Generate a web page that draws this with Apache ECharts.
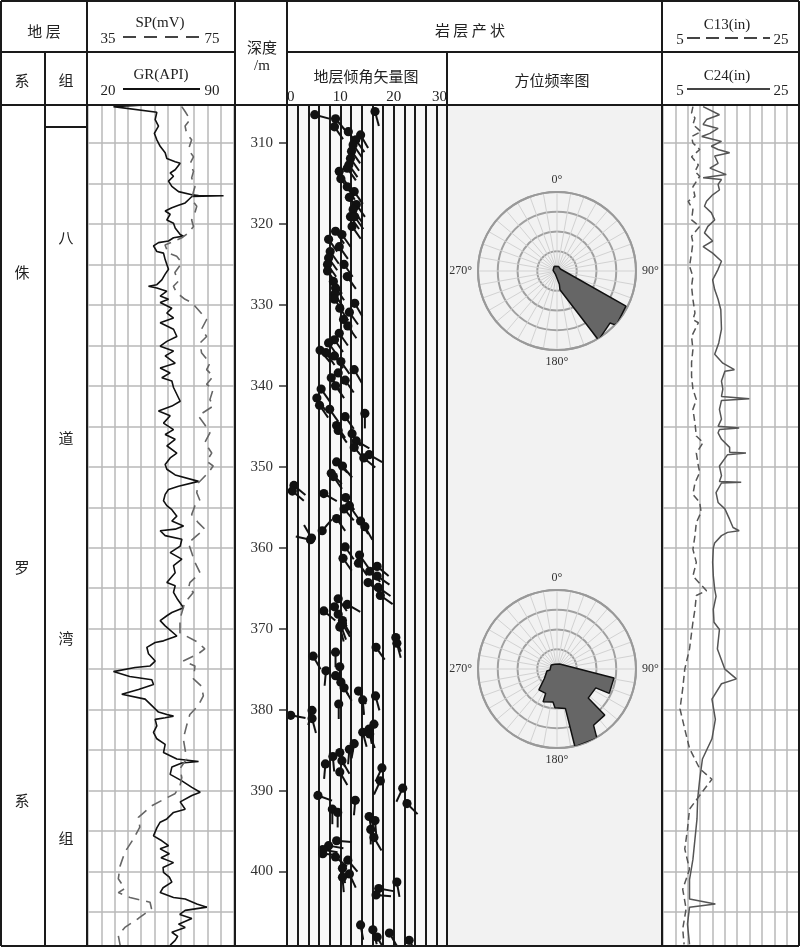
<!DOCTYPE html>
<html>
<head>
<meta charset="utf-8">
<script src="https://cdn.jsdelivr.net/npm/echarts@6.0.0/dist/echarts.min.js"></script>
<style>
  body { margin: 0; background: #fff; }
  #main { width: 800px; height: 947px; }
</style>
</head>
<body>
<div id="main"></div>
<script>
// depth range of the log (m)
const DEPTH_MIN = 305.3
const DEPTH_MAX = 409.2
const depthLabels = [310, 320, 330, 340, 350, 360, 370, 380, 390, 400]
const depthGrid = [310, 315, 320, 325, 330, 335, 340, 345, 350, 355, 360, 365, 370, 375, 380, 385, 390, 395, 400, 405]
const dipLabels = [0, 10, 20, 30]
const roseLabels = [0, 90, 180, 270]

// GR curve: [depth, API]
const grCurve = [[305.3,47.4],[305.5,32.2],[306.2,53],[307.1,52.2],[307.9,53.8],[308.8,51.8],[309.6,53],[310.4,54.6],[311.2,57],[311.9,57.8],[312.3,61.8],[312.5,64.2],[313.3,61.8],[313.7,59.4],[314.1,61],[314.7,58.6],[315.35,60.2],[316,63.4],[316.4,69.8],[316.5,73],[316.52,85],[316.6,69.8],[317,68.2],[317.4,66.6],[317.7,63.4],[318,60.2],[318.4,57],[318.8,59.4],[319.5,57.8],[319.9,61],[320.5,61.8],[321.3,64.2],[321.5,65.8],[321.7,61],[322.1,58.6],[322.3,53.8],[322.7,51.4],[323.4,53],[323.6,56.2],[324.4,57],[325,57.8],[325.6,58.6],[326.2,57],[326.9,55.4],[327.5,53],[327.7,49],[327.9,53],[328.3,57.8],[328.9,54.6],[329.3,58.6],[329.7,54.6],[330.4,60.2],[331,57.8],[331.6,61],[332.2,54.6],[333,61],[333.9,62.6],[334.5,57.8],[335.1,54.6],[335.7,61],[336.3,57],[337.2,61.8],[337.8,54.6],[338.4,59.4],[339,55.4],[339.4,60.2],[340.2,61],[341.9,64.2],[342.5,60.2],[343.1,53.8],[343.7,59.4],[344.6,56.2],[345.4,61],[346,57],[346.6,61.8],[347.4,57.8],[348.3,62.6],[348.9,59.4],[349.7,57],[350.3,57.8],[351,61.8],[351.8,73],[352.4,63.4],[352.8,58.6],[353.4,57],[354.2,56.2],[354.8,57.8],[355.3,60.2],[356.1,62.6],[356.7,60.2],[357.3,65.8],[357.7,61.8],[357.9,54.6],[358.5,57],[358.95,65],[359.8,64.2],[360.6,59.4],[361.4,65],[362.2,61],[363.1,61.8],[364.3,57.8],[364.7,61.8],[365.5,61],[366.4,63],[367.4,65.8],[368,60.2],[368.4,57.8],[369,54.6],[369.65,57],[370.9,62.6],[371.5,56.2],[371.7,52.2],[372.3,48.2],[373.1,49],[374,52.2],[374.6,49.8],[374.8,42.6],[375.3,32.2],[375.9,40],[376.3,50.6],[376.9,51.4],[377.5,44.2],[378.1,36.2],[378.7,47.4],[379.5,50.6],[380.3,53.8],[380.6,57.8],[380.8,61],[381,57],[381.2,52.2],[382,53],[382.8,51.4],[383.6,53],[384.3,57],[385.3,56.2],[386.1,62.6],[386.4,73],[386.6,65],[387.1,60.2],[388,59.4],[388.8,65],[389.6,69.8],[390.2,73.8],[390.6,69.8],[391.4,64.2],[392.3,66.6],[392.7,61],[393.5,57.8],[393.9,54.6],[394.6,53],[395.6,51.4],[396.2,55.4],[396.8,58.6],[397.2,54.6],[397.8,59],[398.3,55],[398.9,61],[399.5,56],[400.1,56.2],[400.7,59],[401.3,60.2],[402,56],[402.6,54.6],[403.2,61],[403.4,66.6],[404,72.2],[404.4,77],[404.8,66.6],[405.3,64],[405.8,69.8],[406.5,63.4],[406.9,66.6],[407.5,60.2],[408,63],[408.5,61.8],[409.1,59.4]]

// SP curve: [depth, mV]
const spCurve = [[305.5,60.7],[306.1,61.6],[307.1,63],[307.9,61.6],[308.8,62],[309.6,63.4],[310.8,62.5],[311.7,63.9],[312.5,63],[313.5,63.9],[314.3,63.4],[315.4,64.3],[316,63.9],[317,63.4],[317.8,64.8],[318.6,64.3],[319.5,63.4],[320.3,63.9],[321.1,62.5],[321.7,60.7],[322.6,56.1],[323.6,57],[324,59.3],[324.8,60.7],[326,58.8],[327.1,59.7],[327.7,58.4],[328.5,59.3],[329.3,61.6],[329.7,63.4],[330.6,65.2],[331.8,67.5],[333,66.1],[333.9,67.5],[334.7,65.7],[335.9,66.1],[337.2,68.4],[338,67.5],[338.8,69.3],[339.8,67.5],[340.4,69.3],[341.7,68.4],[342.5,69.3],[343.7,65.2],[344.8,67],[345.8,68.4],[347,67],[348.3,68.9],[349.3,67.5],[349.9,69.3],[350.7,68],[352,65.2],[353.2,64.8],[354.2,65.7],[354.8,64.3],[355.9,63.4],[356.9,65.2],[357.7,67],[358.5,64.8],[359.4,62.5],[360.6,63.4],[361.8,64.3],[363.1,65.7],[364.3,62.9],[365.1,62.5],[365.5,63.9],[366.8,61.5],[368.8,60.2],[370.5,60.2],[371.7,65.2],[372.5,67],[373.1,65.2],[374,61.1],[374.6,64.3],[376.2,63.9],[377.1,66.1],[378.3,66.6],[379.5,65.2],[380.6,62.9],[382,62],[383.6,61.1],[384.9,61.6],[386.1,62],[387.3,60.2],[388.4,60.7],[389.4,60.2],[390.4,58.8],[391,56.1],[391.9,52.4],[393.3,48.8],[394.5,49.2],[396,47.4],[397.6,45.1],[399.3,43.8],[400.9,43.3],[402.1,45.1],[402.6,43.3],[403.2,46.5],[403.8,52],[404.6,52.4],[405.8,48.8],[406.9,45.1],[407.9,43.3],[409.1,43.8]]

// C13 / C24 caliper curves: [depth, in]
const c13Curve = [[305.5,9.4],[306.3,9.2],[306.9,9.7],[307.7,9.4],[308.6,10.6],[309.2,9.2],[310,9.4],[310.8,10.4],[311.7,9.2],[312.7,10.2],[313.5,9.7],[314.1,10.4],[315.4,9.4],[316.6,9.7],[317.2,8.7],[318.2,9.4],[319.5,9.2],[320.3,10.4],[321.5,9.2],[322.3,9.4],[323.6,9.2],[325.2,8.9],[326.5,9.4],[327.7,9.2],[329.3,9.4],[331,9.7],[331.8,9.4],[332.2,10.2],[333.9,9.2],[335.5,9.4],[337.1,9.2],[338.8,9.2],[340.4,9.4],[341.7,9.9],[342.9,9.4],[344.6,9.7],[346.2,9.9],[347,10.9],[348.3,9.9],[349.9,10.2],[350.7,10.4],[352,9.7],[353.4,9.4],[354.4,10.4],[355.6,10.6],[356.9,9.9],[358.5,9.7],[360.2,9.4],[361.8,9.9],[363.5,9.4],[365.3,11.4],[365.9,9.9],[367.6,9.7],[369.2,9.4],[372.5,8.9],[375,8.2],[377.4,7.9],[379.9,7.5],[382.4,8.2],[384.8,8.9],[387.3,10.4],[388.6,12.2],[389.8,11.1],[392.3,8.9],[394.8,8.6],[397.2,8.2],[399.7,8.9],[402.2,7.9],[404.6,8.4],[407.1,7.9],[409,8.1]]
const c24Curve = [[305.5,10.9],[306.5,13.3],[307.1,11.4],[307.7,10.9],[308.2,13.1],[308.8,11.9],[309.2,10.7],[309.8,13.6],[310.4,12.1],[310.8,13.1],[311.2,14.8],[311.6,12.6],[312.5,13.1],[313.1,11.9],[313.9,14.3],[314.3,10.9],[314.5,13.6],[315.1,13.1],[315.8,13.3],[316.4,12.3],[317.2,11.4],[317.8,11.1],[318.6,12.1],[319.5,12.6],[320.3,11.6],[321.1,11.1],[322.1,12.3],[322.8,10.9],[323.6,12.3],[324.6,13.6],[325.6,13.1],[326.9,12.3],[328.1,12.6],[329.3,13.1],[330.6,13.5],[333,13.6],[334.7,13.2],[336.1,12.6],[337.2,13.8],[338,15.5],[338.2,14.1],[339.4,13.6],[340.4,13.8],[341.3,13.6],[341.6,17.7],[341.8,13.6],[342.9,13.3],[344.1,13.6],[345,13.1],[345.2,16.2],[345.4,13.3],[345.8,13.1],[346.6,13.6],[347.6,14.8],[348.2,14.8],[348.3,17.2],[348.5,14.5],[349.9,13.3],[351.1,13.6],[351.8,13.3],[351.9,16.5],[352,13.6],[353.2,12.8],[354.4,13.1],[355.2,14.1],[356.5,14.8],[357.5,15.3],[357.9,16.2],[358.1,14.5],[358.5,13.6],[359.4,12.6],[360,12.4],[361.8,12.3],[363.5,12.4],[365.1,12.6],[366,12.8],[367.6,12.4],[369.2,12.5],[370.1,13.3],[372.5,13],[375,14.1],[376.2,15.8],[376.8,13.6],[378.7,12.2],[381.2,12.7],[383.6,12.2],[386.1,10.8],[388.6,10.4],[391,10.1],[393.5,10],[396,9.7],[398.5,9.4],[401,8.9],[403.4,8.9],[404,12.7],[404.4,8.9],[406.5,8.6],[409,8.9]]

// dip tadpoles: [depth, dip deg, azimuth deg]
const dipData = [[306.5,5.2,105],[306.1,16.5,165],[307.0,9.1,140],[308.0,8.9,145],[308.6,11.5,145],[309.0,13.8,150],[309.6,12.9,145],[310.2,12.4,145],[311.0,12.1,145],[311.9,11.9,145],[312.7,11.6,145],[313.1,11.3,145],[313.5,9.8,150],[314.4,10.1,145],[315.4,11.3,150],[316.0,12.6,145],[316.7,11.7,145],[317.6,13.0,145],[318.2,12.4,145],[319.1,11.9,145],[319.1,12.7,145],[320.3,12.2,145],[320.9,9.1,145],[321.3,10.3,145],[321.9,7.8,145],[322.8,9.8,145],[323.4,8.1,145],[324.2,7.8,145],[325.0,10.7,145],[325.0,7.6,145],[325.8,7.6,145],[326.5,11.3,145],[327.1,8.7,145],[327.9,9.1,145],[328.7,8.9,145],[329.3,8.9,145],[329.8,12.7,150],[330.4,9.9,145],[330.9,11.7,145],[331.8,10.6,145],[332.6,11.4,145],[333.5,9.8,145],[334.3,8.9,145],[334.7,7.8,145],[335.6,6.2,140],[335.9,7.3,145],[336.3,8.9,145],[337.0,10.1,145],[338.4,9.6,145],[338.0,12.6,150],[339.0,8.3,145],[339.3,10.9,145],[340.0,9.1,145],[340.4,6.4,145],[341.5,5.6,145],[342.4,6.1,145],[342.9,8.0,145],[343.4,14.6,180],[343.8,10.9,145],[344.9,9.3,145],[345.5,9.6,145],[345.9,12.2,145],[346.8,13.0,120],[347.6,12.6,140],[348.5,15.4,120],[348.9,14.4,130],[349.4,9.3,135],[349.9,10.4,140],[350.8,8.3,135],[351.2,8.7,145],[352.3,1.3,130],[353.0,1.0,130],[353.3,6.9,120],[353.8,11.0,145],[354.8,11.7,145],[355.2,10.7,140],[356.4,9.3,145],[356.7,13.8,150],[357.4,14.6,150],[357.9,6.6,40],[359.0,4.4,282],[358.8,4.6,330],[359.9,10.9,145],[361.3,10.5,145],[360.9,13.6,145],[361.9,13.4,145],[362.3,16.9,130],[362.9,15.5,135],[363.5,16.9,125],[364.3,15.2,130],[364.9,17.1,125],[365.9,17.5,125],[366.3,9.6,145],[367.0,11.3,120],[367.8,6.9,130],[367.3,8.9,145],[368.2,9.6,145],[369.0,10.4,150],[369.6,10.1,160],[369.4,10.4,150],[369.8,9.9,165],[371.1,20.4,160],[371.8,20.6,165],[372.3,16.7,145],[373.4,4.9,150],[372.9,9.1,180],[374.7,9.9,180],[375.2,7.3,185],[375.8,9.1,150],[376.6,10.1,150],[377.3,10.7,150],[377.7,13.4,150],[378.8,14.2,175],[378.3,16.6,165],[379.3,9.7,180],[380.7,0.7,100],[380.1,4.7,195],[381.1,4.7,165],[381.8,16.3,190],[382.4,15.4,170],[382.8,14.2,165],[383.0,15.5,160],[384.2,12.6,190],[384.9,11.7,185],[385.3,9.9,160],[385.8,8.6,175],[386.3,10.3,150],[386.7,7.2,185],[387.7,9.9,150],[387.2,17.8,205],[388.8,17.5,205],[389.7,21.7,205],[391.6,22.5,135],[390.6,5.8,110],[391.2,12.8,185],[392.3,8.5,180],[392.7,9.5,180],[393.2,15.4,170],[393.7,16.5,175],[394.8,15.7,180],[395.8,16.3,150],[396.2,9.3,95],[396.8,7.8,100],[397.3,6.7,100],[397.8,6.7,95],[398.2,9.1,130],[398.6,11.4,140],[399.6,10.4,170],[400.3,11.7,155],[400.7,10.4,175],[401.3,20.6,170],[402.1,17.2,100],[402.9,16.7,95],[406.6,13.8,170],[407.2,16.1,165],[408.1,16.9,150],[407.6,19.2,150],[408.5,22.9,150]]

// rose diagrams: [azimuth deg, relative frequency]
const roseUpper = [[329,0.07],[350,0.07],[21,0.06],[60,0.05],[117,0.98],[131,1.01],[133,0.995],[134.5,0.94],[149,1.02],[171,0.24],[170,0.17],[200,0.05],[280,0.05],[329,0.07]]
const roseLower = [[333,0.066],[28,0.072],[99,0.73],[115,0.73],[116,0.546],[133,0.54],[134,0.84],[147,0.85],[150,1.01],[167,1.01],[168,0.51],[183,0.49],[187,0.42],[203,0.45],[205,0.34],[221,0.35],[233,0.2],[259,0.13],[262,0.09],[305,0.09],[333,0.066]]

const SERIF = "'Liberation Serif', 'DejaVu Serif', serif"
const CJK = "'Noto Sans CJK SC', sans-serif"
const TAIL = 15

const chart = echarts.init(document.getElementById('main'))

//纵向深度轴
function depthAxis(gridIndex, extra) {
	return Object.assign({
		type: 'value', gridIndex: gridIndex, inverse: true,
		min: DEPTH_MIN, max: DEPTH_MAX,
		axisLine: { show: false }, axisTick: { show: false },
		axisLabel: { show: false }, splitLine: { show: false }
	}, extra)
}
function hiddenX(gridIndex, min, max, extra) {
	return Object.assign({
		type: 'value', gridIndex: gridIndex, min: min, max: max,
		axisLine: { show: false }, axisTick: { show: false },
		axisLabel: { show: false }, splitLine: { show: false }
	}, extra)
}
const lightGrid = { show: true, lineStyle: { color: '#b9b9b9', width: 1.5 } }

function angleAxis(polarIndex) {
	return {
		polarIndex: polarIndex, type: 'value', min: 0, max: 360, interval: 10,
		startAngle: 90, clockwise: true,
		axisLine: { show: true, lineStyle: { color: '#999', width: 2 } },
		axisTick: { show: false },
		splitLine: { show: true, lineStyle: { color: '#d2d2d2', width: 1 } },
		axisLabel: {
			margin: 6, fontFamily: SERIF, fontSize: 12, color: '#333',
			formatter: v => roseLabels.indexOf(v) >= 0 ? v + '°' : ''
		}
	}
}
function radiusAxis(polarIndex) {
	return {
		polarIndex: polarIndex, type: 'value', min: 0, max: 1, interval: 0.25,
		axisLine: { show: false }, axisTick: { show: false }, axisLabel: { show: false },
		splitLine: { show: true, lineStyle: { color: '#a0a0a0', width: 2 } }
	}
}

// 表格线和表头文字
const lines = [
	[1, 1, 799, 1], [1, 946, 799, 946], [1, 1, 1, 946], [799, 1, 799, 946],
	[0, 52, 235, 52], [287, 52, 800, 52], [0, 105, 800, 105],
	[45, 52, 45, 946], [87, 0, 87, 946], [235, 0, 235, 946], [287, 0, 287, 946],
	[447, 52, 447, 946], [662, 0, 662, 946], [45, 127, 87, 127]
]
const graphics = lines.map(l => ({
	type: 'line', z: 100, shape: { x1: l[0], y1: l[1], x2: l[2], y2: l[3] },
	style: { stroke: '#1a1a1a', lineWidth: 2 }
}))
graphics.push({ type: 'rect', z: -5, shape: { x: 447, y: 105, width: 215, height: 841 }, style: { fill: '#f2f2f2' } })
graphics.push(
	{ type: 'line', z: 100, shape: { x1: 123, y1: 37, x2: 200, y2: 37 }, style: { stroke: '#444', lineWidth: 2, lineDash: [13, 8] } },
	{ type: 'line', z: 100, shape: { x1: 123, y1: 89, x2: 200, y2: 89 }, style: { stroke: '#111', lineWidth: 2 } },
	{ type: 'line', z: 100, shape: { x1: 687, y1: 38, x2: 770, y2: 38 }, style: { stroke: '#444', lineWidth: 2, lineDash: [13, 6] } },
	{ type: 'line', z: 100, shape: { x1: 687, y1: 89, x2: 770, y2: 89 }, style: { stroke: '#444', lineWidth: 2 } }
)
const texts = [
	['地 层', 44, 31, CJK], ['系', 22, 80, CJK], ['组', 66, 80, CJK],
	['SP(mV)', 160, 23, SERIF], ['35', 108, 39, SERIF], ['75', 212, 39, SERIF],
	['GR(API)', 161, 75, SERIF], ['20', 108, 91, SERIF], ['90', 212, 91, SERIF],
	['深度', 262, 47, CJK], ['/m', 262, 66, SERIF],
	['岩 层 产 状', 470, 30, CJK], ['地层倾角矢量图', 366, 76, CJK], ['方位频率图', 552, 80, CJK],
	['C13(in)', 727, 25, SERIF], ['5', 680, 40, SERIF], ['25', 781, 40, SERIF],
	['C24(in)', 727, 76, SERIF], ['5', 680, 91, SERIF], ['25', 781, 91, SERIF],
	['侏', 22, 272, CJK], ['罗', 22, 567, CJK], ['系', 22, 800, CJK],
	['八', 66, 237, CJK], ['道', 66, 438, CJK], ['湾', 66, 638, CJK], ['组', 66, 838, CJK]
]
texts.forEach(t => graphics.push({
	type: 'text', z: 100, x: t[1], y: t[2],
	style: { text: t[0], font: '15px ' + t[3], fill: '#222', textAlign: 'center', textVerticalAlign: 'middle' }
}))

const option = {
	animation: false,
	backgroundColor: '#fff',
	grid: [
		{ left: 88, top: 105, width: 146, height: 841, outerBoundsMode: 'none' },
		{ left: 88, top: 105, width: 146, height: 841, outerBoundsMode: 'none' },
		{ left: 287, top: 105, width: 160, height: 841, outerBoundsMode: 'none', show: true, backgroundColor: '#f8f8f8', borderWidth: 0 },
		{ left: 663, top: 105, width: 136, height: 841, outerBoundsMode: 'none' }
	],
	polar: [
		{ center: [557, 271], radius: 79 },
		{ center: [557, 669], radius: 79 }
	],
	angleAxis: [angleAxis(0), angleAxis(1)],
	radiusAxis: [radiusAxis(0), radiusAxis(1)],
	xAxis: [
		hiddenX(0, 0, 11, { interval: 1, position: 'bottom', splitLine: lightGrid }),
		hiddenX(0, 20, 90, { position: 'top' }),
		hiddenX(1, 35, 75, { position: 'top' }),
		{
			type: 'value', gridIndex: 2, min: 0, max: 30, interval: 2, position: 'top',
			axisLine: { show: false }, axisTick: { show: false },
			axisLabel: {
				show: true, customValues: dipLabels, margin: 0,
				fontFamily: SERIF, fontSize: 15, color: '#222',
				alignMinLabel: 'left', alignMaxLabel: 'right'
			},
			splitLine: { show: true, lineStyle: { color: '#1a1a1a', width: 2 } }
		},
		hiddenX(3, 0, 11, { interval: 1, position: 'bottom', splitLine: lightGrid }),
		hiddenX(3, 5, 25, { position: 'top' })
	],
	yAxis: [
		depthAxis(0, { axisTick: { show: false, customValues: depthGrid }, splitLine: lightGrid }),
		depthAxis(1),
		depthAxis(2, {
			position: 'left',
			axisLine: { show: true, lineStyle: { color: '#1a1a1a', width: 2 } },
			axisTick: { show: true, customValues: depthLabels, length: 8, lineStyle: { color: '#333', width: 1.5 } },
			axisLabel: { show: true, customValues: depthLabels, margin: 14, fontFamily: SERIF, fontSize: 15, color: '#333' }
		}),
		depthAxis(3, { axisTick: { show: false, customValues: depthGrid }, splitLine: lightGrid })
	],
	series: [
		{
			name: 'GR', type: 'line', xAxisIndex: 1, yAxisIndex: 0, symbol: 'none',
			lineStyle: { color: '#111', width: 1.6 },
			data: grCurve.map(d => [d[1], d[0]])
		},
		{
			name: 'SP', type: 'line', xAxisIndex: 2, yAxisIndex: 1, symbol: 'none',
			lineStyle: { color: '#666', width: 1.6, type: [11, 7] },
			data: spCurve.map(d => [d[1], d[0]])
		},
		{
			name: 'dip', type: 'custom', xAxisIndex: 3, yAxisIndex: 2,
			data: dipData.map(d => [d[1], d[0], d[2]]),
			encode: { x: 0, y: 1 },
			renderItem: function (params, api) {
				const p = api.coord([api.value(0), api.value(1)])
				const a = api.value(2) * Math.PI / 180
				return {
					type: 'group',
					children: [
						{ type: 'line', shape: { x1: p[0], y1: p[1], x2: p[0] + TAIL * Math.sin(a), y2: p[1] - TAIL * Math.cos(a) }, style: { stroke: '#111', lineWidth: 2 } },
						{ type: 'circle', shape: { cx: p[0], cy: p[1], r: 4.6 }, style: { fill: '#111' } }
					]
				}
			}
		},
		{
			name: 'C13', type: 'line', xAxisIndex: 5, yAxisIndex: 3, symbol: 'none',
			lineStyle: { color: '#555', width: 1.5, type: [7, 4] },
			data: c13Curve.map(d => [d[1], d[0]])
		},
		{
			name: 'C24', type: 'line', xAxisIndex: 5, yAxisIndex: 3, symbol: 'none',
			lineStyle: { color: '#555', width: 1.5 },
			data: c24Curve.map(d => [d[1], d[0]])
		},
		{
			name: 'rose1', type: 'line', coordinateSystem: 'polar', polarIndex: 0, symbol: 'none',
			lineStyle: { color: '#111', width: 1.5 }, areaStyle: { color: '#666', opacity: 1 },
			data: roseUpper.map(d => [d[1], d[0]])
		},
		{
			name: 'rose2', type: 'line', coordinateSystem: 'polar', polarIndex: 1, symbol: 'none',
			lineStyle: { color: '#111', width: 1.5 }, areaStyle: { color: '#666', opacity: 1 },
			data: roseLower.map(d => [d[1], d[0]])
		}
	],
	graphic: { elements: graphics }
}
chart.setOption(option)
</script>
</body>
</html>
